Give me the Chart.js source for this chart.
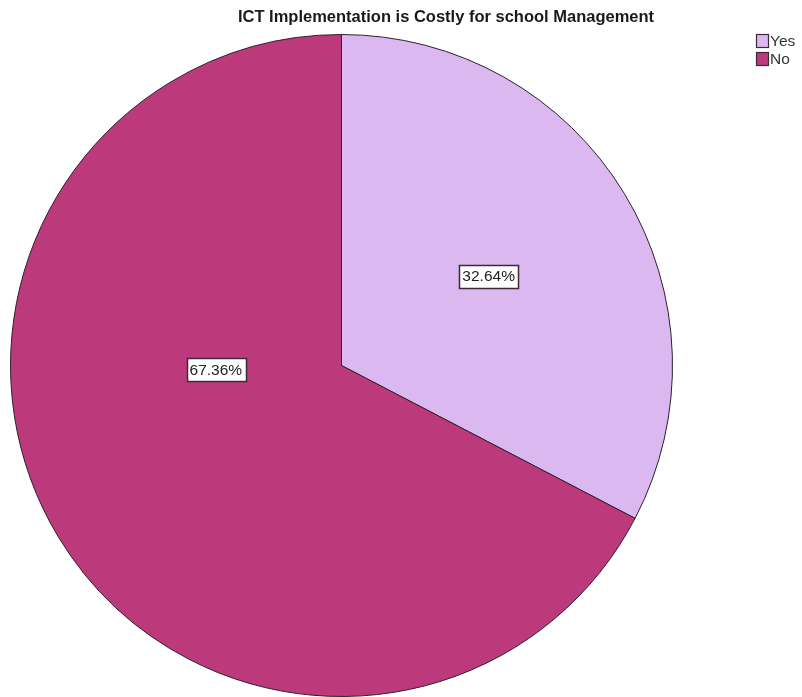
<!DOCTYPE html>
<html>
<head>
<meta charset="utf-8">
<script src="https://cdn.jsdelivr.net/npm/chart.js@4/dist/chart.umd.min.js"></script>
<style>
html,body{margin:0;padding:0;background:#fff;}
#wrap{width:802px;height:697px;position:relative;}
</style>
</head>
<body>
<div id="wrap"><canvas id="c" width="802" height="697"></canvas></div>
<script>
const chartTitle = 'ICT Implementation is Costly for school Management';
const categories = ['Yes', 'No'];
const percentages = [32.64, 67.36];
const sliceColors = ['#dbb8f0', '#bc3a7b'];

// label placement: fraction of radius and angle shift (radians) from slice mid-angle
const labelPlacement = [
  {frac: 0.52, shift: 0.0},
  {frac: 0.38, shift: 0.51}
];

const labelPlugin = {
  id: 'sliceLabels',
  afterDatasetsDraw(chart) {
    const ctx = chart.ctx;
    const meta = chart.getDatasetMeta(0);
    ctx.save();
    ctx.font = '15.5px "Liberation Sans", Arial, sans-serif';
    ctx.textAlign = 'center';
    ctx.textBaseline = 'middle';
    meta.data.forEach((arc, i) => {
      const p = arc.getProps(['x','y','startAngle','endAngle','outerRadius'], true);
      const mid = (p.startAngle + p.endAngle) / 2 + labelPlacement[i].shift;
      const r = p.outerRadius * labelPlacement[i].frac;
      const x = p.x + Math.cos(mid) * r;
      const y = p.y + Math.sin(mid) * r;
      const txt = percentages[i].toFixed(2) + '%';
      const w = ctx.measureText(txt).width + 6;
      const h = 23;
      ctx.fillStyle = '#ffffff';
      ctx.fillRect(Math.round(x - w/2), Math.round(y - h/2), Math.round(w), h);
      ctx.strokeStyle = '#3a2a3a';
      ctx.lineWidth = 1.5;
      ctx.strokeRect(Math.round(x - w/2) + 0.5, Math.round(y - h/2) + 0.5, Math.round(w), h);
      ctx.fillStyle = '#222222';
      ctx.fillText(txt, x, y + 1);
    });
    ctx.restore();
  }
};

const titleLegendPlugin = {
  id: 'titleLegend',
  afterDraw(chart) {
    const ctx = chart.ctx;
    ctx.save();
    ctx.font = 'bold 16.5px "Liberation Sans", Arial, sans-serif';
    ctx.textAlign = 'center';
    ctx.textBaseline = 'middle';
    ctx.fillStyle = '#1a1a1a';
    ctx.fillText(chartTitle, 446, 17);
    ctx.font = '15.5px "Liberation Sans", Arial, sans-serif';
    ctx.textAlign = 'left';
    categories.forEach((c, i) => {
      const y = 34 + i * 18;
      ctx.fillStyle = sliceColors[i];
      ctx.fillRect(756, y, 12, 13);
      ctx.strokeStyle = '#3a2a3a';
      ctx.lineWidth = 1.2;
      ctx.strokeRect(756.5, y + 0.5, 12, 13);
      ctx.fillStyle = '#333333';
      ctx.fillText(c, 770, y + 7.5);
    });
    ctx.restore();
  }
};

new Chart(document.getElementById('c'), {
  type: 'pie',
  data: {
    labels: categories,
    datasets: [{
      data: percentages,
      backgroundColor: sliceColors,
      borderColor: '#2e202e',
      borderWidth: 1
    }]
  },
  options: {
    responsive: false,
    animation: false,
    layout: {padding: {top: 34, bottom: 0, left: 10, right: 129}},
    plugins: {
      legend: {display: false},
      title: {display: false},
      tooltip: {enabled: false}
    }
  },
  plugins: [labelPlugin, titleLegendPlugin]
});
</script>
</body>
</html>
